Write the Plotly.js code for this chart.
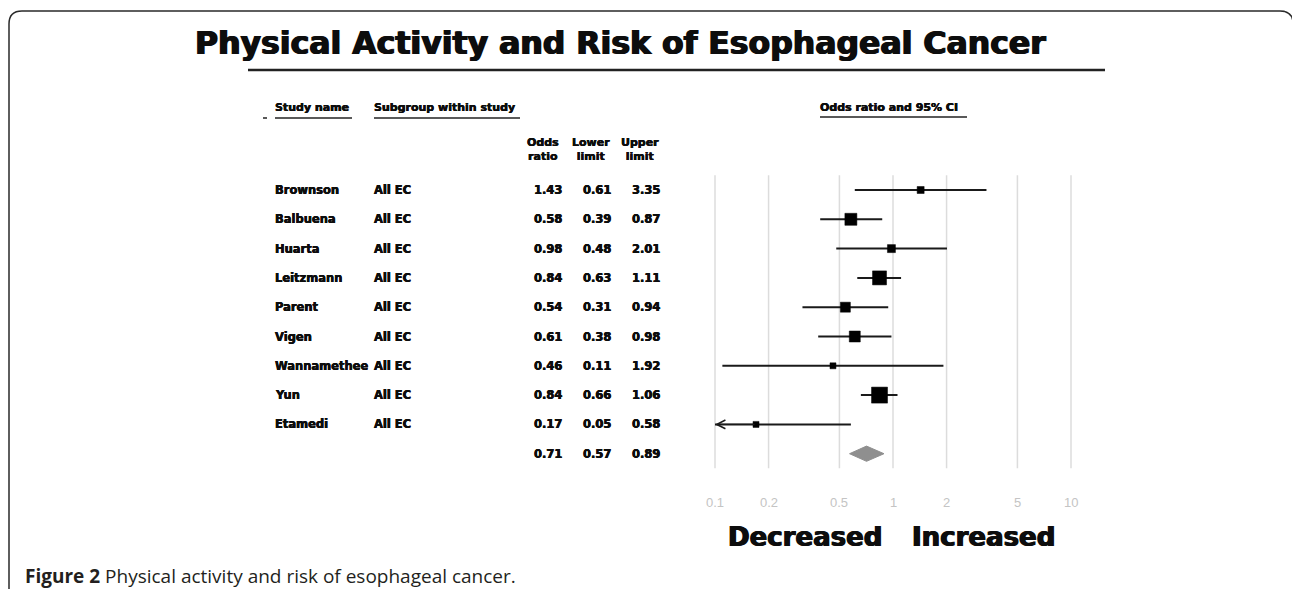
<!DOCTYPE html>
<html>
<head>
<meta charset="utf-8">
<script src="https://cdn.plot.ly/plotly-3.0.1.min.js"></script>
<style>html,body{margin:0;padding:0;background:#fff;}#chart{width:1292px;height:589px;}</style>
</head>
<body>
<div id="chart"></div>
<script>
// ---- data ----
const studies = ['Brownson','Balbuena','Huarta','Leitzmann','Parent','Vigen','Wannamethee','Yun','Etamedi'];
const subgroups = ['All EC','All EC','All EC','All EC','All EC','All EC','All EC','All EC','All EC'];
const oddsRatio = [1.43,0.58,0.98,0.84,0.54,0.61,0.46,0.84,0.17];
const lowerLimit = [0.61,0.39,0.48,0.63,0.31,0.38,0.11,0.66,0.05];
const upperLimit = [3.35,0.87,2.01,1.11,0.94,0.98,1.92,1.06,0.58];
const studyWeightBox = [7,12,8,14,10,11,6,16,6];
const summaryOR = 0.71, summaryLower = 0.57, summaryUpper = 0.89;
const tickVals = [0.1,0.2,0.5,1,2,5,10];
const tickText = ['0.1','0.2','0.5','1','2','5','10'];

// ---- layout helpers ----
const W = 1292, H = 589;
const px = v => v / W;
const py = v => 1 - v / H;
const rowTop = 190, rowStep = 29.3;
const xMin = tickVals[0], xMax = tickVals[tickVals.length - 1];
const decadePx = 178, x01px = 715;
const pad = 0.02;
const xDomain = [px(x01px - pad * decadePx), px(x01px + (2 + pad) * decadePx)];
const yRange = [(H - rowTop) / rowStep, -rowTop / rowStep];
const nRows = studies.length + 1;
const sumRow = studies.length;

const BF = {family: 'DejaVu Sans', weight: 'bold', color: '#0d0d0d'};
function font(size, heavy) {
  const f = Object.assign({}, BF, {size: size});
  if (heavy) f.shadow = `${heavy}px 0 0 #0d0d0d, -${heavy}px 0 0 #0d0d0d`;
  return f;
}

const traces = [];
// gridlines
const gx = [], gy = [];
tickVals.forEach(t => { gx.push(t, t, null); gy.push(-0.5, nRows - 0.5, null); });
traces.push({x: gx, y: gy, mode: 'lines', line: {color: '#dcdcdc', width: 1.5}, hoverinfo: 'skip', showlegend: false});
// CI lines
const cx = [], cy = [];
studies.forEach((s, i) => { cx.push(Math.max(lowerLimit[i], xMin), Math.min(upperLimit[i], xMax), null); cy.push(i, i, null); });
traces.push({x: cx, y: cy, mode: 'lines', line: {color: '#1a1a1a', width: 2}, hoverinfo: 'skip', showlegend: false});
// point estimates
traces.push({x: oddsRatio, y: studies.map((s, i) => i), mode: 'markers', opacity: 1,
  marker: {symbol: 'square', size: studyWeightBox, color: '#000000', opacity: 1, line: {width: 0.5, color: '#000000'}}, showlegend: false});
// summary diamond
const dh = 0.26;
traces.push({x: [summaryLower, summaryOR, summaryUpper, summaryOR, summaryLower],
  y: [sumRow, sumRow - dh, sumRow, sumRow + dh, sumRow], mode: 'lines', fill: 'toself',
  fillcolor: '#8f8f8f', line: {color: '#8f8f8f', width: 1}, showlegend: false});

const ann = [];
// title
ann.push({text: 'Physical Activity and Risk of Esophageal Cancer', xref: 'paper', yref: 'paper', x: px(620), y: py(43),
  xanchor: 'center', yanchor: 'middle', showarrow: false, font: font(31.5, 0.8)});
// headers
ann.push({text: 'Study name', xref: 'paper', yref: 'paper', x: px(273), y: py(108), xanchor: 'left', yanchor: 'middle', showarrow: false, font: font(11, 0.3)});
ann.push({text: 'Subgroup within study', xref: 'paper', yref: 'paper', x: px(372), y: py(108), xanchor: 'left', yanchor: 'middle', showarrow: false, font: font(11, 0.3)});
ann.push({text: 'Odds ratio and 95% CI', xref: 'paper', yref: 'paper', x: px(818), y: py(108), xanchor: 'left', yanchor: 'middle', showarrow: false, font: font(11, 0.3)});
const colHead = [['Odds<br>ratio', 543], ['Lower<br>limit', 591], ['Upper<br>limit', 640]];
colHead.forEach(c => ann.push({text: c[0], xref: 'paper', yref: 'paper', x: px(c[1]), y: py(150), xanchor: 'center', yanchor: 'middle',
  align: 'center', showarrow: false, font: font(11, 0.3)}));
// rows
const numCols = [562, 611, 660];
studies.forEach((s, i) => {
  ann.push({text: s, xref: 'paper', yref: 'y', x: px(273), y: i, xanchor: 'left', yanchor: 'middle', showarrow: false, font: font(11.5, 0.3)});
  ann.push({text: subgroups[i], xref: 'paper', yref: 'y', x: px(372), y: i, xanchor: 'left', yanchor: 'middle', showarrow: false, font: font(11.5, 0.3)});
  [oddsRatio[i], lowerLimit[i], upperLimit[i]].forEach((v, k) => ann.push({text: v.toFixed(2), xref: 'paper', yref: 'y', x: px(numCols[k] + 2), y: i,
    xanchor: 'right', yanchor: 'middle', showarrow: false, font: font(11.5, 0.3)}));
});
[summaryOR, summaryLower, summaryUpper].forEach((v, k) => ann.push({text: v.toFixed(2), xref: 'paper', yref: 'y', x: px(numCols[k] + 2), y: sumRow,
  xanchor: 'right', yanchor: 'middle', showarrow: false, font: font(11.5, 0.3)}));
// arrows for truncated CIs
studies.forEach((s, i) => {
  if (lowerLimit[i] < xMin) {
    ann.push({xref: 'x', yref: 'y', axref: 'x', ayref: 'y', x: Math.log10(xMin), y: i, ax: Math.log10(oddsRatio[i]), ay: i,
      showarrow: true, arrowhead: 5, arrowsize: 1.4, arrowwidth: 1.2, arrowcolor: '#1a1a1a', text: '', standoff: 0});
  }
});
// tick labels
tickVals.forEach((t, k) => ann.push({text: tickText[k], xref: 'x', yref: 'paper', x: Math.log10(t), y: py(502), xanchor: 'center', yanchor: 'middle',
  showarrow: false, font: {family: 'Liberation Sans', size: 13, color: '#c4c4c4'}}));
// Decreased / Increased
ann.push({text: 'Decreased', xref: 'paper', yref: 'paper', x: px(805), y: py(537), xanchor: 'center', yanchor: 'middle', showarrow: false, font: font(26, 0.7)});
ann.push({text: 'Increased', xref: 'paper', yref: 'paper', x: px(983), y: py(537), xanchor: 'center', yanchor: 'middle', showarrow: false, font: font(26, 0.7)});
// caption
ann.push({text: '<b>Figure 2</b> Physical activity and risk of esophageal cancer.', xref: 'paper', yref: 'paper', x: px(23), y: py(576),
  xanchor: 'left', yanchor: 'middle', showarrow: false, font: {family: 'Open Sans', size: 19, color: '#231f20'}});

const shapes = [];
const frame = `M${px(9)},${py(589)} L${px(9)},${py(24)} Q${px(9)},${py(11)} ${px(22)},${py(11)} L${px(1280)},${py(11)} Q${px(1292)},${py(11)} ${px(1293)},${py(22)}`;
shapes.push({type: 'path', xref: 'paper', yref: 'paper', path: frame, line: {color: '#2a2a2a', width: 1.5}});
function hline(x0, x1, y, w) { shapes.push({type: 'line', xref: 'paper', yref: 'paper', x0: px(x0), x1: px(x1), y0: py(y), y1: py(y), line: {color: '#222', width: w}}); }
hline(248, 1105, 70, 2.5);
hline(275, 352, 118, 1.5);
hline(374, 520, 118, 1.5);
hline(263, 267, 118, 1.5);
hline(820, 967, 117, 1.5);

const layout = {
  width: W, height: H, margin: {l: 0, r: 0, t: 0, b: 0},
  paper_bgcolor: '#fff', plot_bgcolor: 'rgba(0,0,0,0)', showlegend: false,
  xaxis: {type: 'log', range: [Math.log10(xMin) - pad, Math.log10(xMax) + pad], domain: xDomain, showgrid: false, zeroline: false,
    showticklabels: false, ticks: '', showline: false, fixedrange: true},
  yaxis: {range: yRange, domain: [0, 1], showgrid: false, zeroline: false, showticklabels: false, ticks: '', showline: false, fixedrange: true},
  annotations: ann, shapes: shapes
};
Plotly.newPlot('chart', traces, layout, {displayModeBar: false, staticPlot: true});
</script>
</body>
</html>
